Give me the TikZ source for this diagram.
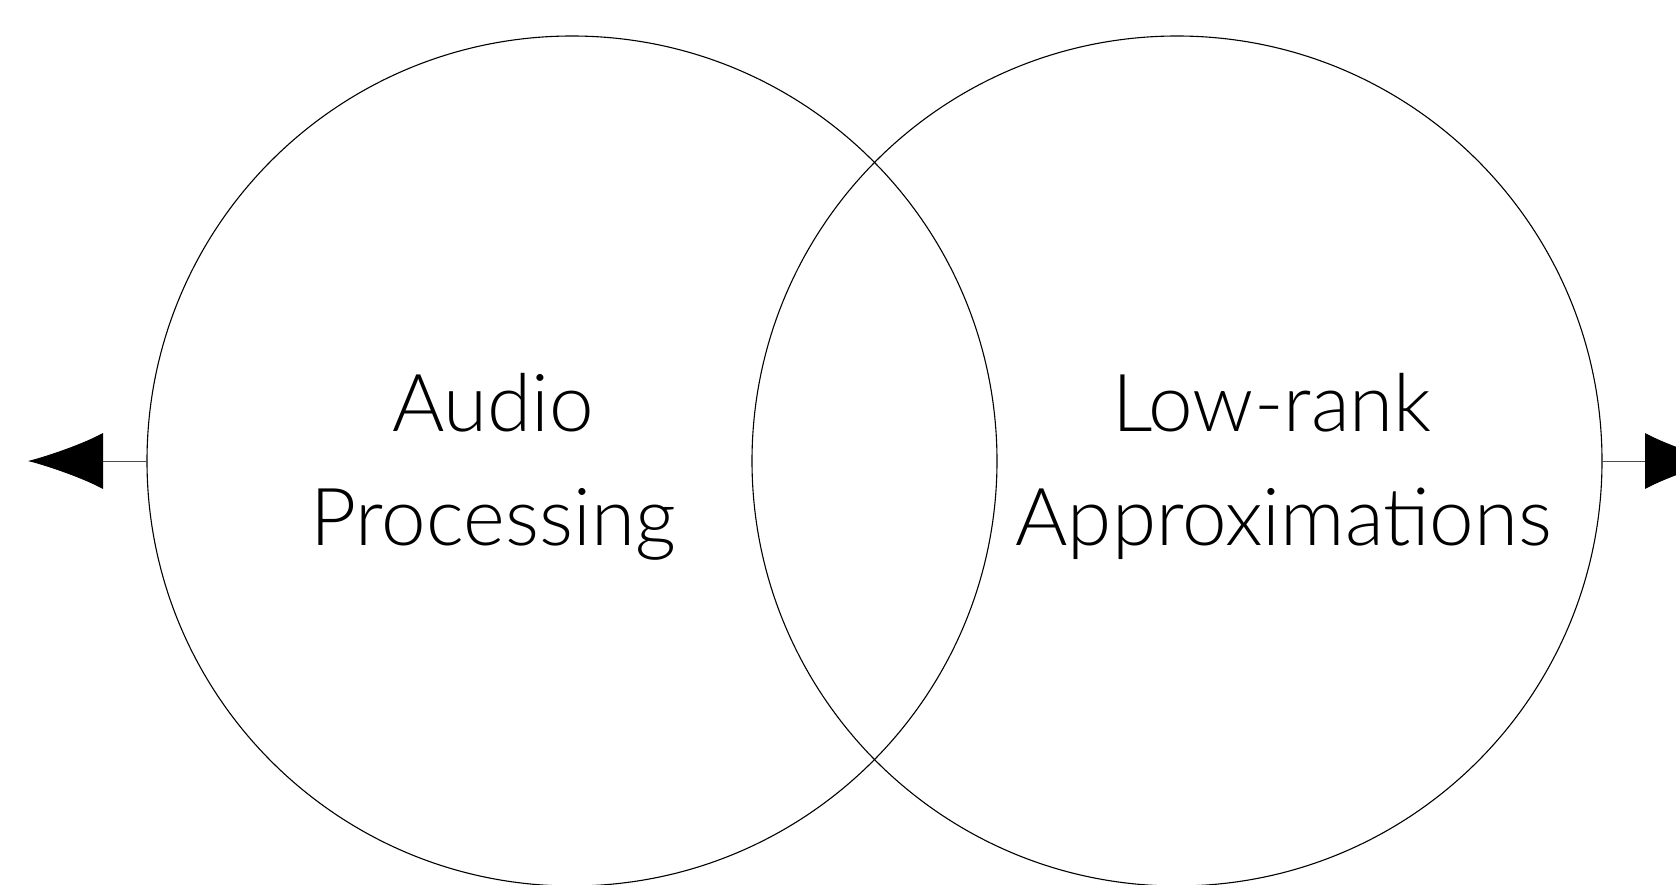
\documentclass[tikz,border=0pt]{standalone}
\usepackage{fontspec}
\newfontfamily\labelfont{Lato Light}
\usetikzlibrary{arrows.meta}
\tikzset{
  setcircle/.style={circle, draw=black, line width=1.1bp, minimum size=850bp, inner sep=0pt, outer sep=0pt},
  setlabel/.style={font=\labelfont\fontsize{80bp}{114bp}\selectfont, align=center, inner sep=0pt, anchor=base},
  outarrow/.style={draw=black!70, line width=1bp, -{Latex[length=75bp,width=56bp,black]}},
}
\begin{document}
\begin{tikzpicture}[x=1bp, y=-1bp]
  \useasboundingbox (0,0) rectangle (1676,884);
  \clip (0,0) rectangle (1676,884);
  \node[setcircle] (L) at (572,461) {};
  \node[setcircle] (R) at (1177,461) {};
  \node[setlabel] (la) at (493,545) {Audio\\Processing};
  \node[setlabel] (lb) at (1284,545) {Low-rank\hspace*{24bp}\\Approximations};
  \coordinate (ltip) at (28,461);
  \coordinate (rtip) at (1720,461);
  \draw[outarrow] (L.west) -- (ltip);
  \draw[outarrow] (R.east) -- (rtip);
\end{tikzpicture}
\end{document}
